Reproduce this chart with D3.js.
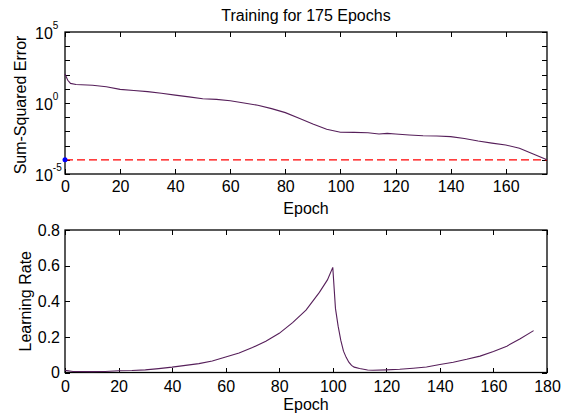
<!DOCTYPE html>
<html>
<head>
<meta charset="utf-8">
<script src="https://cdn.jsdelivr.net/npm/d3@7/dist/d3.min.js"></script>
<style>
  body { margin: 0; background: #fff; }
  svg { font-family: "Liberation Sans", Arial, sans-serif; }
  .axis path, .axis line { stroke: #000; shape-rendering: crispEdges; }
  .axis text { font-size: 16px; fill: #000; font-family: "Liberation Sans", Arial, sans-serif; }
</style>
</head>
<body>
<div id="chart"></div>
<script>
// sum-squared error per epoch
const sseEpochs = [0, 1, 2, 4, 10, 15, 20, 25, 30, 35, 40, 45, 50, 55, 60, 65, 70, 75, 80, 85, 90, 95, 100, 105, 110, 114, 117, 120, 125, 130, 135, 140, 145, 150, 155, 160, 165, 170, 175];
const sseValues = [110, 40, 24, 20, 18, 14, 9.1, 7.6, 6.3, 4.8, 3.6, 2.7, 2.0, 1.8, 1.45, 1.0, 0.69, 0.4, 0.21, 0.083, 0.033, 0.014, 0.0087, 0.0085, 0.0081, 0.0066, 0.0072, 0.0065, 0.0056, 0.005, 0.0047, 0.0043, 0.0032, 0.0021, 0.0015, 0.0011, 0.00065, 0.00026, 0.0001];
const goal = 0.0001;

// learning rate per epoch
const lrEpochs = [0, 3, 10, 15, 20, 25, 30, 35, 40, 45, 50, 55, 60, 65, 70, 75, 80, 85, 90, 95, 98, 100, 101, 102, 103, 104, 105, 106, 107, 108, 110, 113, 115, 120, 125, 130, 135, 140, 145, 150, 155, 160, 165, 170, 175];
const lrValues = [0.012, 0.006, 0.005, 0.006, 0.01, 0.011, 0.015, 0.022, 0.03, 0.04, 0.05, 0.065, 0.087, 0.11, 0.14, 0.175, 0.22, 0.28, 0.35, 0.45, 0.52, 0.59, 0.36, 0.26, 0.18, 0.12, 0.085, 0.058, 0.04, 0.03, 0.022, 0.014, 0.013, 0.015, 0.018, 0.024, 0.031, 0.045, 0.058, 0.074, 0.092, 0.118, 0.148, 0.19, 0.235];

const topXTicks = [0, 20, 40, 60, 80, 100, 120, 140, 160];
const botXTicks = [0, 20, 40, 60, 80, 100, 120, 140, 160, 180];
const decades = d3.range(-5, 6);
const labelledDecades = [-5, 0, 5];
const lrTicks = [0, 0.2, 0.4, 0.6, 0.8];

const width = 563, height = 415;
const lineColor = "#561f5a";

const svg = d3.select("#chart").append("svg")
    .attr("width", width)
    .attr("height", height);

// ---- top plot: error ----
const topBox = { left: 65, right: 547, top: 32, bottom: 174 };

const xTop = d3.scaleLinear().domain([0, 175]).range([topBox.left, topBox.right]);
const yTop = d3.scaleLog().domain([1e-5, 1e5]).range([topBox.bottom, topBox.top]);

svg.append("g").attr("class", "axis")
    .attr("transform", `translate(0,${topBox.bottom})`)
    .call(d3.axisBottom(xTop).tickValues(topXTicks).tickSize(-5).tickPadding(7).tickFormat(d3.format("d")))
    .call(g => g.select(".domain").remove());
svg.append("g").attr("class", "axis")
    .attr("transform", `translate(0,${topBox.top})`)
    .call(d3.axisTop(xTop).tickValues(topXTicks).tickSize(-5).tickFormat(""))
    .call(g => g.select(".domain").remove());
svg.append("g").attr("class", "axis")
    .attr("transform", `translate(${topBox.left},0)`)
    .call(d3.axisLeft(yTop).tickValues(decades.map(d => Math.pow(10, d))).tickSize(-5).tickFormat(""))
    .call(g => g.select(".domain").remove());
svg.append("g").attr("class", "axis")
    .attr("transform", `translate(${topBox.right},0)`)
    .call(d3.axisRight(yTop).tickValues(decades.map(d => Math.pow(10, d))).tickSize(-5).tickFormat(""))
    .call(g => g.select(".domain").remove());

// power-of-ten labels
labelledDecades.forEach(p => {
    const t = svg.append("text")
        .attr("x", 35)
        .attr("y", yTop(Math.pow(10, p)) + 7)
        .attr("font-size", 16);
    t.append("tspan").text("10");
    t.append("tspan").attr("dy", -10).attr("font-size", 10).text(p);
});

svg.append("rect")
    .attr("x", topBox.left).attr("y", topBox.top)
    .attr("width", topBox.right - topBox.left).attr("height", topBox.bottom - topBox.top)
    .attr("fill", "none").attr("stroke", "#000").attr("stroke-width", 1.3);

// goal line
svg.append("line")
    .attr("x1", xTop(0)).attr("x2", xTop(175))
    .attr("y1", yTop(goal)).attr("y2", yTop(goal))
    .attr("stroke", "#ff0000").attr("stroke-width", 1.2)
    .attr("stroke-dasharray", "8,4");

const sseData = sseEpochs.map((e, i) => ({ x: e, y: sseValues[i] }));
svg.append("path")
    .datum(sseData)
    .attr("fill", "none")
    .attr("stroke", lineColor)
    .attr("stroke-width", 1.1)
    .attr("d", d3.line().x(d => xTop(d.x)).y(d => yTop(d.y)));

svg.append("circle")
    .attr("cx", xTop(0)).attr("cy", yTop(goal))
    .attr("r", 2.5).attr("fill", "#0000ff");

svg.append("text")
    .attr("x", (topBox.left + topBox.right) / 2).attr("y", 20.5)
    .attr("text-anchor", "middle").attr("font-size", 16)
    .text("Training for 175 Epochs");

svg.append("text")
    .attr("x", (topBox.left + topBox.right) / 2).attr("y", 214)
    .attr("text-anchor", "middle").attr("font-size", 16)
    .text("Epoch");

svg.append("text")
    .attr("transform", `translate(26,${(topBox.top + topBox.bottom) / 2 + 2}) rotate(-90)`)
    .attr("text-anchor", "middle").attr("font-size", 16)
    .text("Sum-Squared Error");

// ---- bottom plot: learning rate ----
const botBox = { left: 65, right: 547, top: 230, bottom: 372.5 };

const xBot = d3.scaleLinear().domain([0, 180]).range([botBox.left, botBox.right]);
const yBot = d3.scaleLinear().domain([0, 0.8]).range([botBox.bottom, botBox.top]);

svg.append("g").attr("class", "axis")
    .attr("transform", `translate(0,${botBox.bottom})`)
    .call(d3.axisBottom(xBot).tickValues(botXTicks).tickSize(-5).tickPadding(8).tickFormat(d3.format("d")))
    .call(g => g.select(".domain").remove());
svg.append("g").attr("class", "axis")
    .attr("transform", `translate(0,${botBox.top})`)
    .call(d3.axisTop(xBot).tickValues(botXTicks).tickSize(-5).tickFormat(""))
    .call(g => g.select(".domain").remove());
svg.append("g").attr("class", "axis")
    .attr("transform", `translate(${botBox.left},0)`)
    .call(d3.axisLeft(yBot).tickValues(lrTicks).tickSize(-5).tickPadding(5).tickFormat(d => d === 0 ? "0" : d3.format(".1f")(d)))
    .call(g => g.select(".domain").remove());
svg.append("g").attr("class", "axis")
    .attr("transform", `translate(${botBox.right},0)`)
    .call(d3.axisRight(yBot).tickValues(lrTicks).tickSize(-5).tickFormat(""))
    .call(g => g.select(".domain").remove());

svg.append("rect")
    .attr("x", botBox.left).attr("y", botBox.top)
    .attr("width", botBox.right - botBox.left).attr("height", botBox.bottom - botBox.top)
    .attr("fill", "none").attr("stroke", "#000").attr("stroke-width", 1.3);

const lrData = lrEpochs.map((e, i) => ({ x: e, y: lrValues[i] }));
svg.append("path")
    .datum(lrData)
    .attr("fill", "none")
    .attr("stroke", lineColor)
    .attr("stroke-width", 1.1)
    .attr("d", d3.line().x(d => xBot(d.x)).y(d => yBot(d.y)));

svg.append("text")
    .attr("x", (botBox.left + botBox.right) / 2).attr("y", 410)
    .attr("text-anchor", "middle").attr("font-size", 16)
    .text("Epoch");

svg.append("text")
    .attr("transform", `translate(31,${(botBox.top + botBox.bottom) / 2}) rotate(-90)`)
    .attr("text-anchor", "middle").attr("font-size", 16)
    .text("Learning Rate");
</script>
</body>
</html>
